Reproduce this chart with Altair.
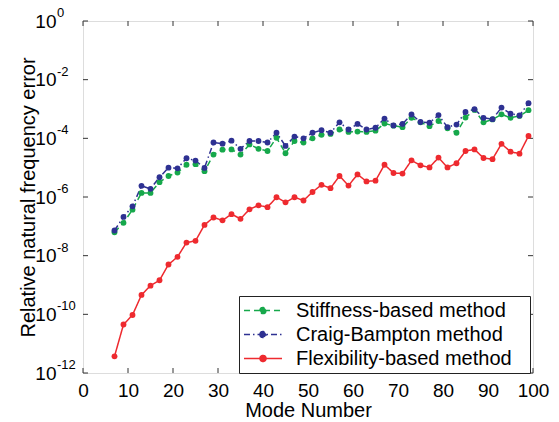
import altair as alt
import pandas as pd

modes = [7, 9, 11, 13, 15, 17, 19, 21, 23, 25, 27, 29, 31, 33, 35, 37, 39, 41, 43, 45,
         47, 49, 51, 53, 55, 57, 59, 61, 63, 65, 67, 69, 71, 73, 75, 77, 79, 81, 83, 85,
         87, 89, 91, 93, 95, 97, 99]

stiffness = [6.3e-8, 1.32e-7, 3.7e-7, 1.38e-6, 1.38e-6, 3.2e-6, 5.2e-6, 6.8e-6, 1.26e-5, 1.32e-5,
             7.6e-6, 2.8e-5, 4.1e-5, 4.2e-5, 2.8e-5, 6.2e-5, 4.4e-5, 3.7e-5, 1.05e-4, 3.1e-5,
             8.1e-5, 7.2e-5, 1.0e-4, 1.32e-4, 1.41e-4, 2.0e-4, 1.66e-4, 1.7e-4, 1.66e-4, 1.82e-4,
             3.2e-4, 2.7e-4, 2.4e-4, 5.0e-4, 3.5e-4, 2.6e-4, 3.9e-4, 2.2e-4, 1.55e-4, 5.1e-4,
             9.3e-4, 3.5e-4, 4.4e-4, 6.6e-4, 5.0e-4, 5.8e-4, 9.1e-4]

craig_bampton = [7.2e-8, 2.1e-7, 4.8e-7, 2.4e-6, 1.9e-6, 4.7e-6, 1.0e-5, 9.5e-6, 2.1e-5, 1.74e-5,
                 9.8e-6, 7.2e-5, 6.6e-5, 8.3e-5, 4.4e-5, 8.1e-5, 8.1e-5, 7.2e-5, 1.55e-4, 5.5e-5,
                 1.15e-4, 1.0e-4, 1.55e-4, 1.9e-4, 1.55e-4, 3.5e-4, 2.0e-4, 3.1e-4, 2.0e-4, 2.3e-4,
                 4.7e-4, 2.75e-4, 3.1e-4, 6.5e-4, 3.6e-4, 3.4e-4, 6.2e-4, 2.4e-4, 2.95e-4, 7.9e-4,
                 9.8e-4, 5.0e-4, 4.5e-4, 1.12e-3, 6.9e-4, 6.0e-4, 1.58e-3]

flexibility = [3.7e-12, 4.5e-11, 9.5e-11, 4.6e-10, 9.5e-10, 1.45e-9, 5.0e-9, 9.1e-9, 2.8e-8, 3.2e-8,
               1.12e-7, 2.0e-7, 1.6e-7, 2.6e-7, 1.8e-7, 3.8e-7, 5.2e-7, 4.5e-7, 9.8e-7, 6.6e-7,
               9.8e-7, 7.6e-7, 1.48e-6, 2.6e-6, 2.0e-6, 5.2e-6, 2.45e-6, 5.9e-6, 3.4e-6, 3.6e-6,
               1.26e-5, 6.6e-6, 6.3e-6, 1.78e-5, 1.2e-5, 1.02e-5, 2.2e-5, 1.02e-5, 1.41e-5, 3.7e-5,
               4.2e-5, 2.14e-5, 1.95e-5, 6.5e-5, 3.5e-5, 3.0e-5, 1.2e-4]

series_names = ["Stiffness-based method", "Craig-Bampton method", "Flexibility-based method"]
series_colors = ["#16a84b", "#2e3192", "#ee2a2f"]
series_dashes = [[6, 4], [6, 3, 1.5, 3], [1, 0]]

x_ticks = [0, 10, 20, 30, 40, 50, 60, 70, 80, 90, 100]
y_ticks = [1, 1e-2, 1e-4, 1e-6, 1e-8, 1e-10, 1e-12]
y_exponents = ["0", "-2", "-4", "-6", "-8", "-10", "-12"]

FONT = "Liberation Sans"
W, H = 450, 352

rows = []
for name, vals in zip(series_names, [stiffness, craig_bampton, flexibility]):
    for m, v in zip(modes, vals):
        rows.append({"mode": m, "err": v, "method": name})
df = pd.DataFrame(rows)

xscale = alt.Scale(domain=[0, 100], nice=False, zero=False)
yscale = alt.Scale(type="log", domain=[1e-12, 1], nice=False)

x_enc = alt.X("mode:Q", scale=xscale,
              axis=alt.Axis(values=x_ticks, title="Mode Number", ticks=False, tickSize=0,
                            domain=False, grid=False, labelFontSize=19, labelPadding=8,
                            labelFont=FONT, titleFont=FONT, titleFontSize=20,
                            titleFontWeight="normal", titlePadding=0, labelColor="#000",
                            titleColor="#000", labelFlush=False))
y_enc = alt.Y("err:Q", scale=yscale,
              axis=alt.Axis(values=y_ticks, title="Relative natural frequency error",
                            labelExpr="'10'", ticks=False, tickSize=0, domain=False, grid=False,
                            labelFontSize=19, labelPadding=27, labelFont=FONT, titleFont=FONT,
                            titleFontSize=20, titleFontWeight="normal", titlePadding=-4,
                            labelColor="#000", titleColor="#000", labelFlush=False,
                            labelOverlap=False, labelBound=False))

legend = alt.Legend(
    title="_", titleOrient="right", titleFontSize=10, titleOpacity=0, titlePadding=8,
    orient="none", legendX=156, legendY=275,
    symbolType="M-1,0H3M0.68,0A0.32,0.32,0,1,1,1.32,0A0.32,0.32,0,1,1,0.68,0",
    symbolSize=361, symbolStrokeWidth=1.5, labelFontSize=20, labelFont=FONT,
    labelColor="#000", labelOffset=32, rowPadding=3, padding=4,
    strokeColor="#222", fillColor="white", labelLimit=400)

color = alt.Color("method:N", scale=alt.Scale(domain=series_names, range=series_colors),
                  legend=legend)
fill = alt.Fill("method:N", scale=alt.Scale(domain=series_names, range=series_colors),
                legend=legend)
dash = alt.StrokeDash("method:N", scale=alt.Scale(domain=series_names, range=series_dashes),
                      legend=legend)

lines = alt.Chart(df).mark_line(strokeWidth=1.5).encode(
    x=x_enc, y=y_enc, color=color, strokeDash=dash, order="mode:Q")
points = alt.Chart(df).mark_circle(size=34, opacity=1).encode(
    x=alt.X("mode:Q", scale=xscale), y=alt.Y("err:Q", scale=yscale), fill=fill)

exp_df = pd.DataFrame({"err": y_ticks, "txt": y_exponents})
exps = alt.Chart(exp_df).mark_text(align="left", baseline="middle", dy=-8, fontSize=13,
                                   font=FONT, color="#000").encode(
    x=alt.value(-26), y=alt.Y("err:Q", scale=yscale), text="txt:N")

xt_df = pd.DataFrame({"mode": x_ticks})
yt_df = pd.DataFrame({"err": y_ticks})
tick_color = "#333"
xt_bot = alt.Chart(xt_df).mark_rule(color=tick_color, strokeWidth=1).encode(
    x=alt.X("mode:Q", scale=xscale), y=alt.value(H), y2=alt.value(H - 5))
xt_top = alt.Chart(xt_df).mark_rule(color=tick_color, strokeWidth=1).encode(
    x=alt.X("mode:Q", scale=xscale), y=alt.value(0), y2=alt.value(5))
yt_left = alt.Chart(yt_df).mark_rule(color=tick_color, strokeWidth=1).encode(
    y=alt.Y("err:Q", scale=yscale), x=alt.value(0), x2=alt.value(5))
yt_right = alt.Chart(yt_df).mark_rule(color=tick_color, strokeWidth=1).encode(
    y=alt.Y("err:Q", scale=yscale), x=alt.value(W), x2=alt.value(W - 5))

chart = alt.layer(xt_bot, xt_top, yt_left, yt_right, lines, points, exps).properties(
    width=W, height=H,
    autosize=alt.AutoSizeParams(type="none"),
    padding={"left": 83, "top": 21, "right": 26, "bottom": 49},
).configure_view(stroke="#222", strokeWidth=1).configure(background="white")

chart.save("out.html", embed_options={"renderer": "svg", "actions": False})
